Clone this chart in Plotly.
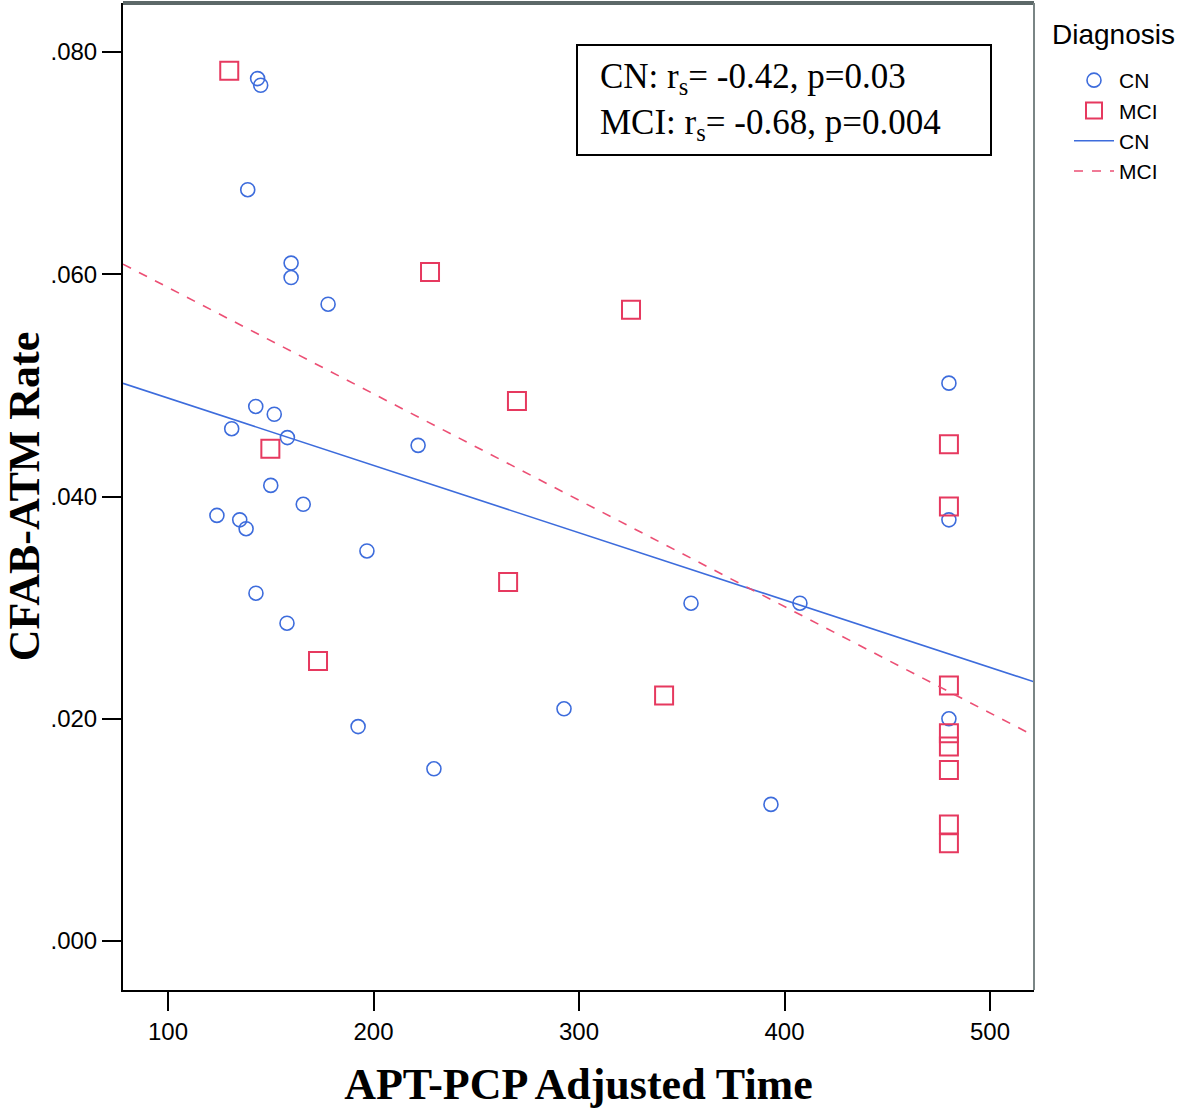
import numpy as np
import plotly.graph_objects as go

# ---- data ----
cn_x = [143.6, 145.1, 138.8, 159.9, 159.9, 177.9, 142.7, 151.7, 131.0, 158.1,
        221.7, 150.0, 165.8, 123.8, 134.9, 138.0, 196.8, 142.8, 157.9, 192.5,
        229.4, 292.7, 354.5, 407.5, 393.4, 480, 480, 480]
cn_y = [0.0776, 0.0770, 0.0676, 0.0610, 0.0597, 0.0573, 0.0481, 0.0474, 0.0461, 0.0453,
        0.0446, 0.0410, 0.0393, 0.0383, 0.0379, 0.0371, 0.0351, 0.0313, 0.0286, 0.0193,
        0.0155, 0.0209, 0.0304, 0.0304, 0.0123, 0.0502, 0.0379, 0.0200]
mci_x = [129.8, 149.8, 173.0, 227.5, 269.8, 265.5, 325.3, 341.4,
         480, 480, 480, 480, 480, 480, 480, 480]
mci_y = [0.0783, 0.0443, 0.0252, 0.0602, 0.0486, 0.0323, 0.0568, 0.0221,
         0.0447, 0.0391, 0.0230, 0.0187, 0.0175, 0.0154, 0.0105, 0.0088]

# fit lines (intercept, slope)
cn_fit = (0.05491, -6.057e-5)
mci_fit = (0.06838, -9.571e-5)

x_range = [78.1, 521.4]
y_range = [-0.0044, 0.0844]
y_tickvals = [0.0, 0.02, 0.04, 0.06, 0.08]
y_ticktext = [".000", ".020", ".040", ".060", ".080"]
x_tickvals = [100, 200, 300, 400, 500]
x_ticktext = ["100", "200", "300", "400", "500"]

stats_lines = ["CN: r<sub>s</sub>= -0.42, p=0.03", "MCI: r<sub>s</sub>= -0.68, p=0.004"]

blue = "#3d6cdc"
red = "#e6395f"

fig = go.Figure()
fig.add_trace(go.Scatter(x=cn_x, y=cn_y, mode="markers", name="CN",
                         marker=dict(symbol="circle-open", size=14, color=blue,
                                     line=dict(width=1.6, color=blue))))
fig.add_trace(go.Scatter(x=mci_x, y=mci_y, mode="markers", name="MCI",
                         marker=dict(symbol="square-open", size=18, color=red,
                                     line=dict(width=2, color=red))))
lx = np.array(x_range)
fig.add_trace(go.Scatter(x=lx, y=cn_fit[0] + cn_fit[1] * lx, mode="lines", name="CN",
                         line=dict(color=blue, width=1.6)))
fig.add_trace(go.Scatter(x=lx, y=mci_fit[0] + mci_fit[1] * lx, mode="lines", name="MCI",
                         line=dict(color="#ec4f74", width=1.6, dash="dash")))

sans = "Liberation Sans Narrow, Arial Narrow, Liberation Sans, Arial"
serif = "Liberation Serif, Times New Roman, serif"
tick_font = dict(family=sans, size=24, color="black")
title_font = dict(family=serif, size=44, color="black")

W, H = 1181, 1109
ML, MR, MT, MB = 123, 147, 3, 119
PW, PH = W - ML - MR, H - MT - MB


def px_to_paper_x(px):
    return (px - ML) / PW


def px_to_paper_y(py):
    return (H - MB - py) / PH


fig.update_layout(
    width=W, height=H,
    margin=dict(l=ML, r=MR, t=MT, b=MB),
    paper_bgcolor="white", plot_bgcolor="white",
    showlegend=True,
    legend=dict(
        font=dict(family=sans, size=21, color="black"),
        x=px_to_paper_x(1069), y=px_to_paper_y(60), xanchor="left", yanchor="top",
        bgcolor="rgba(0,0,0,0)", tracegroupgap=0, itemwidth=40,
    ),
    xaxis=dict(range=x_range, tickvals=x_tickvals, ticktext=x_ticktext,
               ticks="outside", ticklen=19, tickwidth=2, tickcolor="black",
               showgrid=False, zeroline=False, showline=True, linecolor="black", linewidth=2,
               tickfont=tick_font,
               title=dict(text="<b>APT-PCP Adjusted Time</b>", font=title_font, standoff=24)),
    yaxis=dict(range=y_range, tickvals=y_tickvals, ticktext=y_ticktext,
               ticks="outside", ticklen=19, tickwidth=2, tickcolor="black",
               showgrid=False, zeroline=False, showline=True, linecolor="black", linewidth=2,
               tickfont=tick_font,
               title=dict(text="<b>CFAB-ATM Rate</b>", font=title_font, standoff=4)),
)

# top and right frame
fig.add_shape(type="line", xref="paper", yref="paper", x0=0, x1=1, y0=1, y1=1,
              line=dict(color="#5c6868", width=4))
fig.add_shape(type="line", xref="paper", yref="paper", x0=1, x1=1, y0=0, y1=1,
              line=dict(color="#7a8585", width=2))

# legend title
fig.add_annotation(xref="paper", yref="paper", x=px_to_paper_x(1050), y=px_to_paper_y(35),
                   xanchor="left", yanchor="middle", text="Diagnosis", showarrow=False,
                   font=dict(family=sans, size=28, color="black"))

# stats box
fig.add_shape(type="rect", xref="paper", yref="paper",
              x0=px_to_paper_x(577), x1=px_to_paper_x(991),
              y0=px_to_paper_y(155), y1=px_to_paper_y(45),
              line=dict(color="black", width=2), fillcolor="white", layer="above")
fig.add_annotation(xref="paper", yref="paper", x=px_to_paper_x(598), y=px_to_paper_y(101),
                   xanchor="left", yanchor="middle", text="<br>".join(stats_lines),
                   showarrow=False, align="left",
                   font=dict(family=serif, size=35, color="black"))

fig.write_html("out.html", post_script="document.body.style.margin='0';",
               config={"displayModeBar": False})
